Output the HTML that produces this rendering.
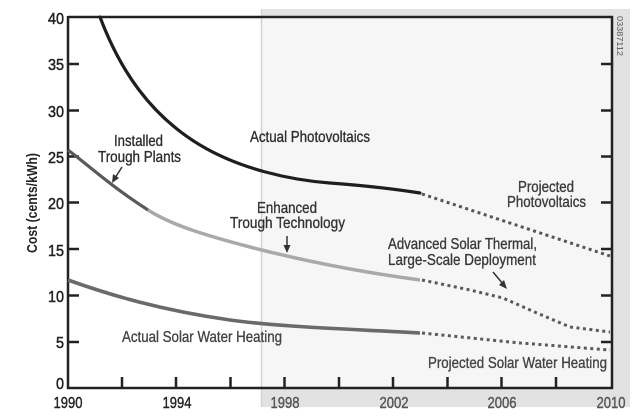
<!DOCTYPE html>
<html>
<head>
<meta charset="utf-8">
<style>
  html,body{margin:0;padding:0;background:#fff;}
  svg{display:block;}
  text{font-family:"Liberation Sans", Arial, sans-serif;}
</style>
</head>
<body>
<svg width="640" height="416" viewBox="0 0 640 416" xmlns="http://www.w3.org/2000/svg">
  <rect x="0" y="0" width="640" height="416" fill="#ffffff"/>

  <!-- shaded projection region -->
  <rect x="261" y="9" width="369" height="398" fill="#e2e2e2"/>
  <rect x="261" y="17" width="351" height="371" fill="#f6f6f6"/>
  <line x1="261.5" y1="9" x2="261.5" y2="407" stroke="#d2d2d2" stroke-width="1.5"/>

  <!-- axes frame -->
  <g stroke="#222" stroke-width="2.5" fill="none">
    <line x1="68" y1="17" x2="613" y2="17"/>
    <line x1="68" y1="16" x2="68" y2="389"/>
    <line x1="67" y1="388" x2="613" y2="388"/>
    <line x1="612" y1="16" x2="612" y2="389"/>
  </g>

  <!-- y ticks left & right -->
  <g stroke="#222" stroke-width="2.5">
    <line x1="68" y1="64" x2="79" y2="64"/>
    <line x1="68" y1="110.5" x2="79" y2="110.5"/>
    <line x1="68" y1="156.5" x2="79" y2="156.5"/>
    <line x1="68" y1="202.5" x2="79" y2="202.5"/>
    <line x1="68" y1="249" x2="79" y2="249"/>
    <line x1="68" y1="295.5" x2="79" y2="295.5"/>
    <line x1="68" y1="342" x2="79" y2="342"/>

    <line x1="601" y1="64" x2="612" y2="64"/>
    <line x1="601" y1="110.5" x2="612" y2="110.5"/>
    <line x1="601" y1="156.5" x2="612" y2="156.5"/>
    <line x1="601" y1="202.5" x2="612" y2="202.5"/>
    <line x1="601" y1="249" x2="612" y2="249"/>
    <line x1="601" y1="295.5" x2="612" y2="295.5"/>
    <line x1="601" y1="342" x2="612" y2="342"/>
  </g>

  <!-- x ticks -->
  <g stroke="#222" stroke-width="2.5">
    <line x1="122" y1="377" x2="122" y2="388"/>
    <line x1="176" y1="377" x2="176" y2="388"/>
    <line x1="230.5" y1="377" x2="230.5" y2="388"/>
    <line x1="284.5" y1="377" x2="284.5" y2="388"/>
    <line x1="339" y1="377" x2="339" y2="388"/>
    <line x1="393" y1="377" x2="393" y2="388"/>
    <line x1="447.5" y1="377" x2="447.5" y2="388"/>
    <line x1="501.5" y1="377" x2="501.5" y2="388"/>
    <line x1="556" y1="377" x2="556" y2="388"/>
  </g>

  <!-- y tick labels -->
  <g fill="#222" stroke="#222" stroke-width="0.5" font-size="16" text-anchor="end">
    <text x="64" y="24" textLength="16" lengthAdjust="spacingAndGlyphs">40</text>
    <text x="64" y="70" textLength="16" lengthAdjust="spacingAndGlyphs">35</text>
    <text x="64" y="117" textLength="16" lengthAdjust="spacingAndGlyphs">30</text>
    <text x="64" y="163" textLength="16" lengthAdjust="spacingAndGlyphs">25</text>
    <text x="64" y="209" textLength="16" lengthAdjust="spacingAndGlyphs">20</text>
    <text x="64" y="256" textLength="16" lengthAdjust="spacingAndGlyphs">15</text>
    <text x="64" y="302" textLength="16" lengthAdjust="spacingAndGlyphs">10</text>
    <text x="64" y="348" textLength="8" lengthAdjust="spacingAndGlyphs">5</text>
    <text x="64" y="389" textLength="8" lengthAdjust="spacingAndGlyphs">0</text>
  </g>

  <!-- x tick labels -->
  <g font-size="16" text-anchor="middle" stroke-width="0.4">
    <text x="68" y="408" textLength="29" lengthAdjust="spacingAndGlyphs" fill="#222" stroke="#222">1990</text>
    <text x="177" y="408" textLength="29" lengthAdjust="spacingAndGlyphs" fill="#222" stroke="#222">1994</text>
    <text x="285" y="408" textLength="29" lengthAdjust="spacingAndGlyphs" fill="#555" stroke="#555">1998</text>
    <text x="394" y="408" textLength="29" lengthAdjust="spacingAndGlyphs" fill="#555" stroke="#555">2002</text>
    <text x="502" y="408" textLength="29" lengthAdjust="spacingAndGlyphs" fill="#555" stroke="#555">2006</text>
    <text x="611" y="408" textLength="29" lengthAdjust="spacingAndGlyphs" fill="#555" stroke="#555">2010</text>
  </g>

  <!-- y axis title -->
  <text transform="translate(37,203) rotate(-90)" text-anchor="middle" font-size="15" font-weight="bold" fill="#222" textLength="100" lengthAdjust="spacingAndGlyphs">Cost (cents/kWh)</text>

  <!-- id label -->
  <text transform="translate(617,36) rotate(90)" text-anchor="middle" font-size="8" fill="#555" textLength="40" lengthAdjust="spacingAndGlyphs">03387112</text>

  <!-- Actual Photovoltaics -->
  <path d="M100,17 C120,70 150,115 200,145 C240,169 290,180 330,183 C370,186 395,189 420,193" fill="none" stroke="#1e1e1e" stroke-width="3.2" stroke-linecap="round"/>
  <!-- Projected PV (dotted) -->
  <path d="M422,194 L610,256" fill="none" stroke="#555" stroke-width="3" stroke-dasharray="3 3.5"/>

  <!-- Installed Trough Plants -->
  <path d="M68,150 C88,165 112,187 148,210" fill="none" stroke="#5a5a5a" stroke-width="3.2"/>
  <!-- Enhanced Trough Technology -->
  <path d="M148,210 C170,224 200,234 250,247 C300,260 360,272 420,280" fill="none" stroke="#a9a9a9" stroke-width="3.5"/>
  <!-- Advanced Solar Thermal dotted -->
  <path d="M422,280 L470,290 L503,298 L537,313 L570,327 L610,332" fill="none" stroke="#5a5a5a" stroke-width="3" stroke-dasharray="3 3.5"/>

  <!-- Actual Solar Water Heating -->
  <path d="M68,280 C110,295 160,310 230,320 C280,327 350,329 420,333" fill="none" stroke="#6a6a6a" stroke-width="3.6"/>
  <!-- Projected Solar Water Heating dotted -->
  <path d="M422,333 L520,343 L610,350" fill="none" stroke="#5a5a5a" stroke-width="3" stroke-dasharray="3 3.5"/>

  <!-- arrows -->
  <g stroke="#333" stroke-width="1.5" fill="#333">
    <line x1="122" y1="167" x2="115" y2="178"/>
    <polygon points="112,183 113,174 119,178" stroke="none"/>
    <line x1="287" y1="236" x2="287" y2="246"/>
    <polygon points="287,253 283.5,245 290.5,245" stroke="none"/>
    <line x1="493" y1="272" x2="503" y2="284"/>
    <polygon points="507,289 499,285 504,280" stroke="none"/>
  </g>

  <!-- annotations -->
  <g font-size="16" stroke-width="0.35">
    <text x="114" y="146" textLength="49" lengthAdjust="spacingAndGlyphs" fill="#2e2e2e" stroke="#2e2e2e">Installed</text>
    <text x="98" y="162" textLength="83" lengthAdjust="spacingAndGlyphs" fill="#2e2e2e" stroke="#2e2e2e">Trough Plants</text>
    <text x="250" y="142" textLength="120" lengthAdjust="spacingAndGlyphs" fill="#2e2e2e" stroke="#2e2e2e">Actual Photovoltaics</text>
    <text x="257" y="213" textLength="60" lengthAdjust="spacingAndGlyphs" fill="#333" stroke="#333">Enhanced</text>
    <text x="230" y="228" textLength="115" lengthAdjust="spacingAndGlyphs" fill="#333" stroke="#333">Trough Technology</text>
    <text x="518" y="192" textLength="56" lengthAdjust="spacingAndGlyphs" fill="#3a3a3a" stroke="#3a3a3a">Projected</text>
    <text x="507" y="207" textLength="79" lengthAdjust="spacingAndGlyphs" fill="#3a3a3a" stroke="#3a3a3a">Photovoltaics</text>
    <text x="388" y="249" textLength="149" lengthAdjust="spacingAndGlyphs" fill="#3a3a3a" stroke="#3a3a3a">Advanced Solar Thermal,</text>
    <text x="388" y="265" textLength="148" lengthAdjust="spacingAndGlyphs" fill="#3a3a3a" stroke="#3a3a3a">Large-Scale Deployment</text>
    <text x="122" y="342" textLength="160" lengthAdjust="spacingAndGlyphs" fill="#444" stroke="#444">Actual Solar Water Heating</text>
    <text x="428" y="368" textLength="179" lengthAdjust="spacingAndGlyphs" fill="#444" stroke="#444">Projected Solar Water Heating</text>
  </g>
</svg>
</body>
</html>
